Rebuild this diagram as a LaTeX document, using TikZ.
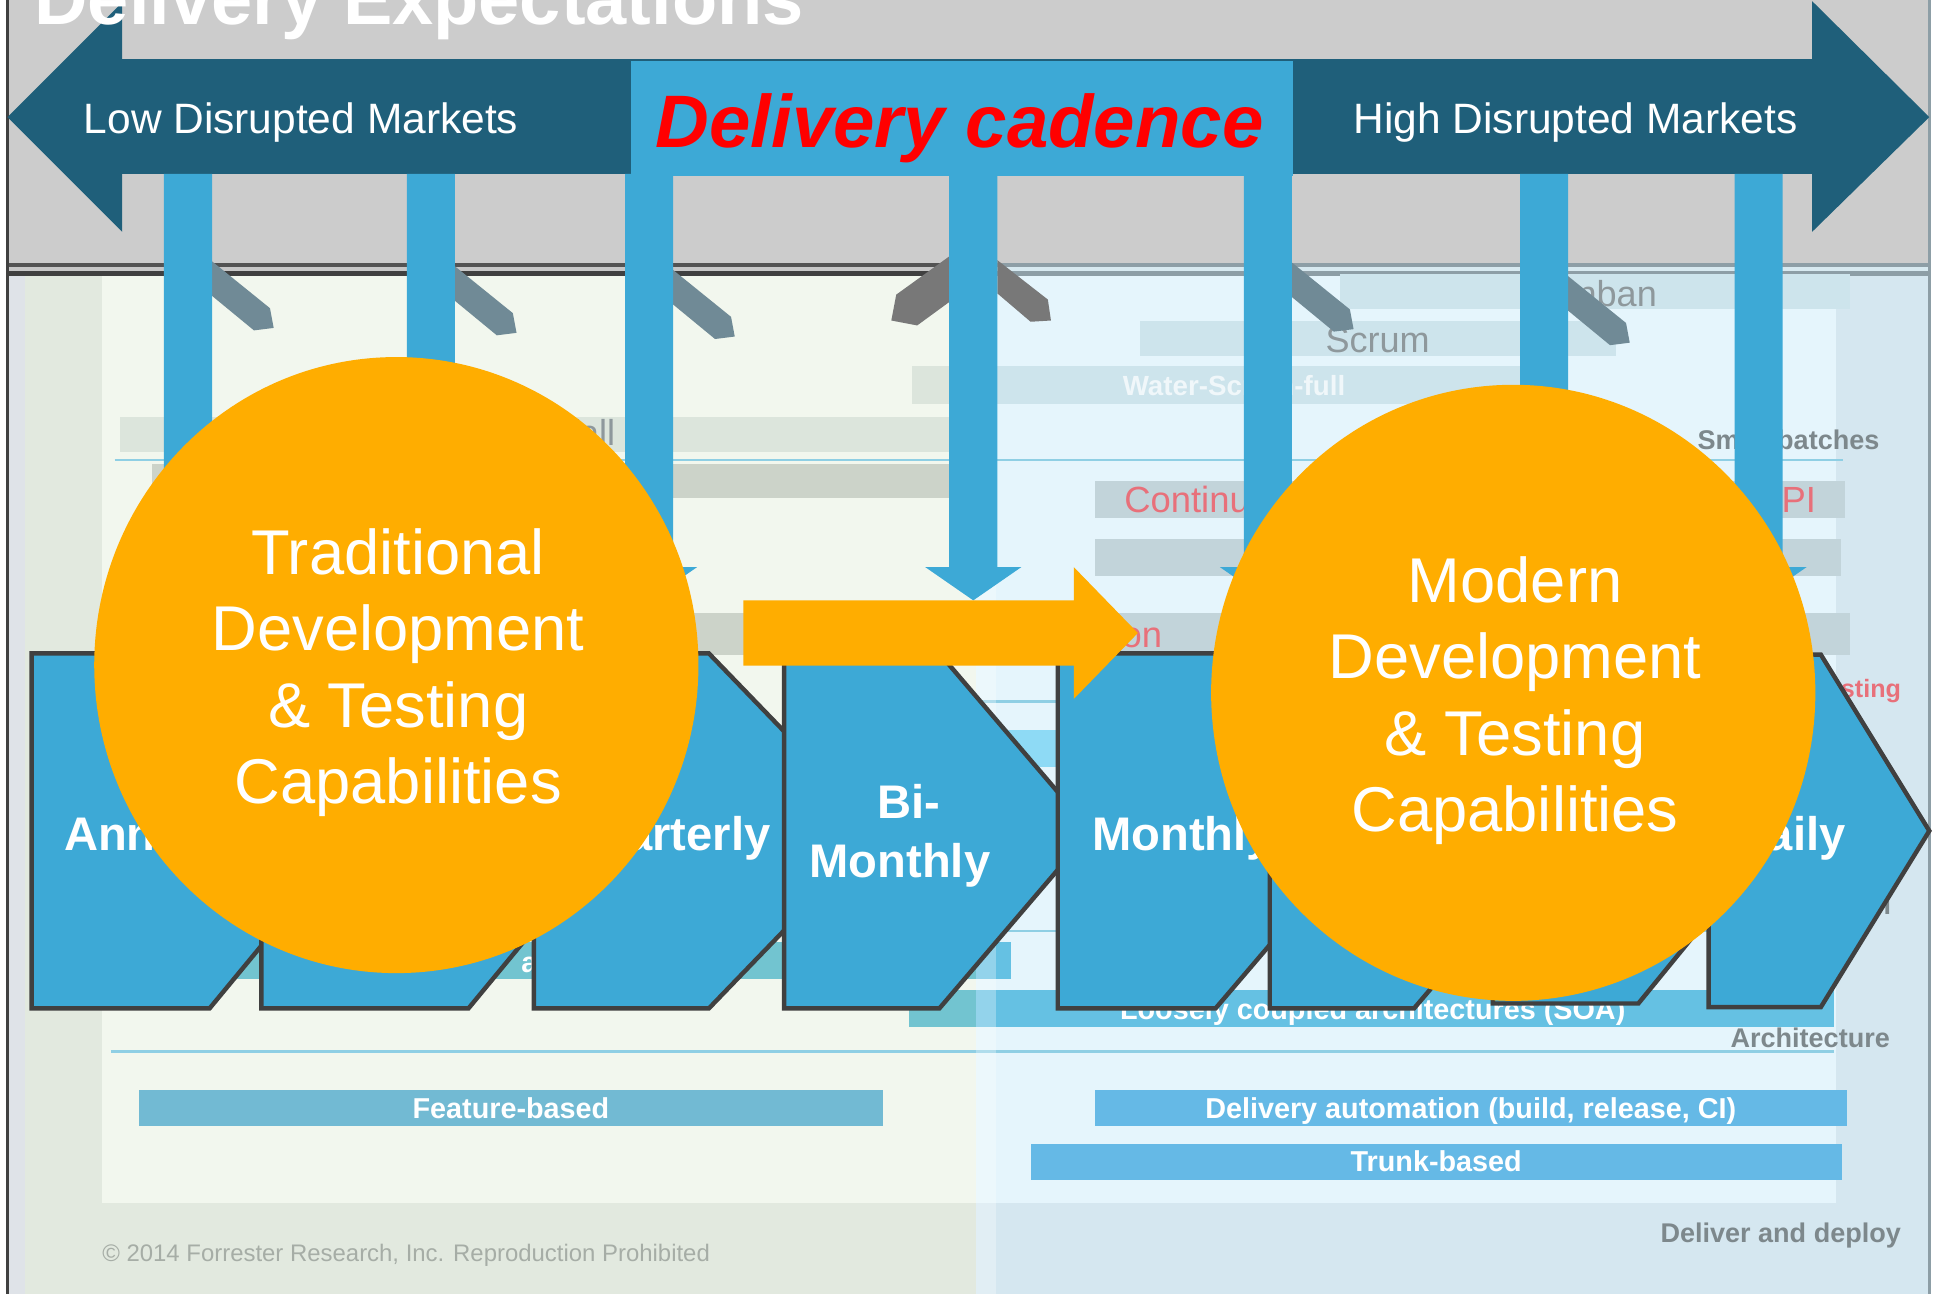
\documentclass[tikz,border=0pt]{standalone}
\usepackage{fontspec}
\setmainfont{Liberation Sans}
\usetikzlibrary{shapes.geometric}
\definecolor{topgray}{HTML}{CCCCCC}
\definecolor{marketteal}{HTML}{1F5F7A}
\definecolor{cadblue}{HTML}{3DA9D6}
\definecolor{capsorange}{HTML}{FFAD00}
\definecolor{chevedge}{HTML}{404040}
\definecolor{tabslate}{HTML}{708A96}
\definecolor{tabgray}{HTML}{787878}
\definecolor{oldouter}{HTML}{E2E9DF}
\definecolor{oldinner}{HTML}{F2F7EE}
\definecolor{newouter}{HTML}{D5E7F0}
\definecolor{newinner}{HTML}{E5F5FC}
\definecolor{edgestrip}{HTML}{DFE3E8}
\definecolor{oldband}{HTML}{DCE5DC}
\definecolor{oldbanddark}{HTML}{CCD3C9}
\definecolor{newband}{HTML}{CDE4EC}
\definecolor{newbanddark}{HTML}{C2D4DA}
\definecolor{archteal}{HTML}{72C4D0}
\definecolor{archblue}{HTML}{65C1E3}
\definecolor{featteal}{HTML}{72BAD3}
\definecolor{autoblue}{HTML}{65B9E6}
\definecolor{skyband}{HTML}{8EDAF5}
\definecolor{ruleblue}{HTML}{8FCFE4}
\definecolor{fadegray}{HTML}{8E989C}
\definecolor{labelgray}{HTML}{7D888C}
\definecolor{fadepink}{HTML}{E8707A}
\definecolor{fadewhite}{HTML}{F0F7FA}
\definecolor{copygray}{HTML}{A6ADA6}
\definecolor{lightline}{HTML}{8D9EA6}

\begin{document}
\begin{tikzpicture}[x=0.025cm, y=-0.025cm,
		every node/.style={inner sep=0pt, outer sep=0pt},
		markettext/.style={text=white, font=\fontsize{24.5}{29}\selectfont, anchor=base west},
		bandtext/.style={text=white, font=\bfseries\fontsize{16.6}{19}\selectfont, anchor=base},
		sidelabel/.style={text=labelgray, font=\bfseries\fontsize{15.6}{18}\selectfont},
		fadetext/.style={text=fadegray, font=\fontsize{20.8}{24}\selectfont},
		pinktext/.style={text=fadepink, font=\fontsize{21}{24}\selectfont},
		chevbox/.style={fill=cadblue, draw=chevedge, line width=0.09cm, line join=miter},
		chevlabel/.style={text=white, font=\bfseries\fontsize{27.2}{33}\selectfont},
		capcircle/.style={ellipse, fill=capsorange, minimum width=12.25cm, minimum height=12.49cm},
		captext/.style={text=white, align=center, font=\fontsize{36.5}{44.1}\selectfont},
		panelrule/.style={draw=ruleblue, line width=0.05cm}]
	\useasboundingbox (0,0) rectangle (1568,1050);
	\clip (0,0) rectangle (1568,1050);
	% panels
	\fill[white] (0,0) rectangle (1568,1050);
	\fill[topgray] (7,0) rectangle (1565,215);
	\fill[edgestrip] (7,215) rectangle (20,1050);
	\fill[oldouter] (20,215) rectangle (792,1050);
	\fill[oldinner] (83,224) rectangle (792,976);
	\fill[newouter] (792,215) rectangle (1565,1050);
	\fill[newinner] (792,224) rectangle (1489,976);
	\fill[black!22] (7,213) rectangle (792,224);
	\fill[chevedge!90] (7,213) rectangle (792,216.5);
	\fill[chevedge] (7,219.5) rectangle (792,224);
	\fill[newband!80] (792,213) rectangle (1565,224);
	\fill[lightline] (792,213) rectangle (1565,216.5);
	\fill[lightline] (792,219.5) rectangle (1565,224);
	\draw[chevedge, line width=0.05cm] (6,0) -- (6,1050);
	\draw[lightline, line width=0.06cm] (1565.5,0) -- (1565.5,1050);

	% bands of the old panel
	\fill[oldband] (97,338) rectangle (792,367);
	\node[fadetext, anchor=base east] (waterfall) at (499,361) {Waterfall};
	\fill[oldbanddark] (123,376) rectangle (792,404);
	\fill[oldbanddark] (123,497) rectangle (792,531);
	\fill[oldband] (740,297) rectangle (792,328);
	\fill[archteal] (113,764) rectangle (792,794);
	\fill[archblue] (792,764) rectangle (820,794);
	\node[bandtext, anchor=base west] (archfrag) at (423,788.5) {a};
	\fill[archteal] (737,803) rectangle (792,833);
	\fill[featteal] (113,884) rectangle (716,913);
	\node[bandtext] (featurebased) at (414.5,907) {Feature-based};

	% bands of the new panel
	\fill[newband] (1087,222) rectangle (1501,251);
	\node[fadetext, anchor=base east] (kanban) at (1344,249) {Kanban};
	\fill[newband] (925,260) rectangle (1311,289);
	\node[fadetext, anchor=base] (scrum) at (1117.5,286) {Scrum};
	\fill[newband] (792,297) rectangle (1233,328);
	\node[bandtext, text=fadewhite, font=\bfseries\fontsize{16}{19}\selectfont] (waterscrum) at (1001,321) {Water-Scrum-full};
	\node[sidelabel, anchor=base west] (smallbatch) at (1377,365) {Small batches};
	\draw[panelrule] (93,373) -- (1495,373);
	\fill[newbanddark] (888,390) rectangle (1497,420);
	\node[pinktext, anchor=base west] (continuous) at (912,416) {Continuous};
	\node[pinktext, anchor=base east] (api) at (1473,416) {API};
	\fill[newbanddark] (888,437) rectangle (1493,467);
	\fill[newbanddark] (792,497) rectangle (1501,531);
	\node[pinktext, anchor=base east] (onfrag) at (942.6,525.6) {on};
	\draw[panelrule] (700,569) -- (1489,569);
	\fill[skyband] (700,592) rectangle (900,622);
	\node[pinktext, anchor=base east, font=\bfseries\fontsize{14.5}{17}\selectfont] (testing) at (1542,566) {Testing};
	\node[sidelabel, anchor=base east] (lfrag) at (1534,742) {l};
	\draw[panelrule] (700,755) -- (1489,755);
	\fill[archblue] (792,803) rectangle (1488,833);
	\node[bandtext] (soa) at (1113.5,827) {Loosely coupled architectures (SOA)};
	\node[sidelabel, anchor=base east] (architecture) at (1533,850) {Architecture};
	\draw[panelrule, line width=0.075cm] (90,853) -- (1488,853);
	\fill[autoblue] (888,884) rectangle (1498,913);
	\node[bandtext] (automation) at (1193,907) {Delivery automation (build, release, CI)};
	\fill[autoblue] (836,928) rectangle (1494,957);
	\node[bandtext] (trunk) at (1165,950) {Trunk-based};
	\node[sidelabel, anchor=base east] (deploy) at (1542,1008) {Deliver and deploy};
	\node[anchor=base west, text=copygray, font=\fontsize{13.8}{16}\selectfont] (copyright) at (83,1023) {© 2014 Forrester Research, Inc. Reproduction Prohibited};
	\fill[white, opacity=0.3] (792,224) rectangle (808,1050);

	% pins beside the bars
	\foreach \tx/\ty in {172/212, 369/216, 546/219, 1048/213, 1272/224}
		\fill[tabslate] (\tx,\ty) -- ++(47,38) -- ++(3,16) -- ++(-16,2) -- ++(-34,-28) -- cycle;
	\fill[tabgray] (770,208) -- (727,239) -- (723,260) -- (744,264) -- (770,245) -- cycle;
	\fill[tabgray] (809,211) -- (850,243) -- (852.5,260) -- (836,261) -- (809,238) -- cycle;

	% markets arrow and cadence comb
	\fill[marketteal] (6,95) -- (99,2) -- (99,48) -- (1470,48) -- (1470,1) -- (1565,95) -- (1470,188) -- (1470,141) -- (99,141) -- (99,188) -- cycle;
	\node[markettext] (lowmkt) at (68,108) {Low Disrupted Markets};
	\node[markettext] (highmkt) at (1098,108) {High Disrupted Markets};
	\foreach \bx in {152.5,349.5,526.5,789.5,1028.5,1252.5,1426.5}
		\fill[cadblue] (\bx-19.5,141) -- (\bx+19.5,141) -- (\bx+19.5,460) -- (\bx+39,460) -- (\bx,487) -- (\bx-39,460) -- (\bx-19.5,460) -- cycle;
	\node[fill=cadblue, minimum width=13.43cm, minimum height=2.33cm] (cadbox) at (780.5,96.5) {};
	\node[anchor=base, text=red, font=\bfseries\itshape\fontsize{42.9}{50}\selectfont] (cadtext) at (778.5,120) {Delivery cadence};
	\node[anchor=base west, text=white, font=\bfseries\fontsize{42.7}{50}\selectfont] (title) at (28,20) {Delivery Expectations};

	% release chevrons
	\foreach \cl/\cr/\cp/\ct/\cb in {25.6/170/289/530/818, 212/380/499/530/818, 433/575/714/530/818, 636/762/885/530/818, 858/986/1109/530/818, 1030/1147/1270/530/818, 1211/1329/1445/530/814, 1386/1477/1565/531/817}
		\filldraw[chevbox] (\cl,\ct) -- (\cr,\ct) -- (\cp,{(\ct+\cb)/2}) -- (\cr,\cb) -- (\cl,\cb) -- cycle;
	\node[chevlabel, anchor=base west] (annually) at (52,690) {Annually};
	\node[chevlabel, anchor=base east] (quarterly) at (625,690) {Quarterly};
	\node[chevlabel, anchor=base] (bimonthlya) at (737,664) {Bi-};
	\node[chevlabel, anchor=base] (bimonthlyb) at (730,712) {Monthly};
	\node[chevlabel, anchor=base west] (monthly) at (886,690) {Monthly};
	\node[chevlabel, anchor=base east] (daily) at (1497,690) {Daily};

	\fill[capsorange] (603,487) -- (871,487) -- (871,460) -- (923,513.5) -- (871,567) -- (871,540) -- (603,540) -- cycle;

	\node[capcircle] (tradcap) at (321.5,539.5) {};
	\node[captext] (tradtext) at (323,545.7) {Traditional\\Development\\\& Testing\\Capabilities};
	\node[capcircle] (moderncap) at (1227.5,562) {};
	\node[captext] (moderntext) at (1229,568.2) {Modern\\Development\\\& Testing\\Capabilities};
\end{tikzpicture}
\end{document}
